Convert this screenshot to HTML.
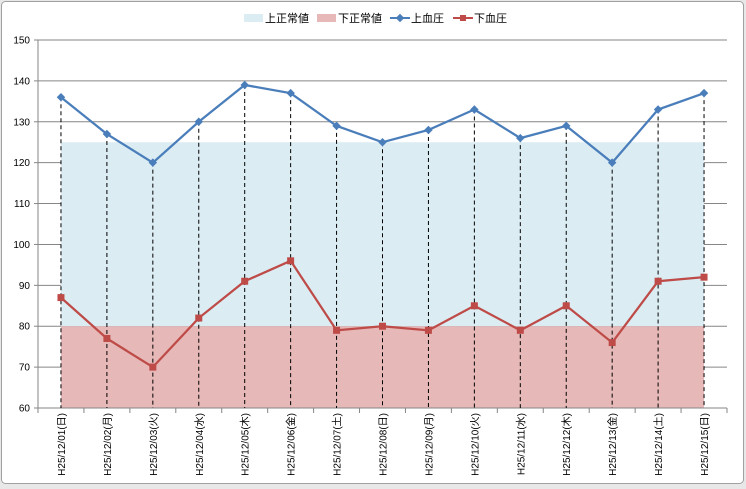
<!DOCTYPE html>
<html><head><meta charset="utf-8"><style>
html,body{margin:0;padding:0;background:#e8e8e8;}
svg{display:block;font-family:"Liberation Sans","Noto Sans CJK JP",sans-serif;}
</style></head><body>
<svg id="chart" width="746" height="489" xmlns="http://www.w3.org/2000/svg">
<rect x="1.5" y="1.5" width="742" height="482" rx="4" fill="#fff" stroke="#a0a0a0"/>
<g id="legend">
 <g><rect x="244" y="14" width="19" height="8" fill="#dbedf3"/><text x="265" y="22" font-size="11">上正常値</text></g>
 <g><rect x="317" y="14" width="19" height="8" fill="#e6b8b7"/><text x="338" y="22" font-size="11">下正常値</text></g>
 <g><line x1="390" y1="18" x2="410" y2="18" stroke="#4a7ebb" stroke-width="2"/><rect x="397" y="15" width="6" height="6" fill="#4a7ebb" transform="rotate(45 400 18)"/><text x="411" y="22" font-size="11">上血圧</text></g>
 <g><line x1="453" y1="18" x2="473" y2="18" stroke="#be4b48" stroke-width="2"/><rect x="460" y="15" width="6" height="6" fill="#be4b48"/><text x="474" y="22" font-size="11">下血圧</text></g>
</g>
<g id="plot"></g>
</svg>
<script>
const categories=["H25/12/01(日)","H25/12/02(月)","H25/12/03(火)","H25/12/04(水)","H25/12/05(木)","H25/12/06(金)","H25/12/07(土)","H25/12/08(日)","H25/12/09(月)","H25/12/10(火)","H25/12/11(水)","H25/12/12(木)","H25/12/13(金)","H25/12/14(土)","H25/12/15(日)"];
const upperBP=[136,127,120,130,139,137,129,125,128,133,126,129,120,133,137];
const lowerBP=[87,77,70,82,91,96,79,80,79,85,79,85,76,91,92];
const upperNormal=[80,125];
const lowerNormal=[60,80];
const yTicks=[60,70,80,90,100,110,120,130,140,150];

const NS="http://www.w3.org/2000/svg";
const L=38,R=727,T=40,B=408,yMin=60,yMax=150;
const band=(R-L)/categories.length;
const xs=i=>L+band*(i+0.5);
const ys=v=>B-(v-yMin)/(yMax-yMin)*(B-T);
const g=document.getElementById('plot');
function mk(tag,attrs,parent){const e=document.createElementNS(NS,tag);for(const k in attrs)e.setAttribute(k,attrs[k]);(parent||g).appendChild(e);return e;}

// gridlines
yTicks.forEach(v=>{
 const ln=mk('line',{x1:L,x2:R,y1:ys(v),y2:ys(v),stroke:'#868686','stroke-width':1});
 
 
});
// bands
const x0=xs(0),x1=xs(categories.length-1);
const ub=mk('rect',{x:x0,y:ys(upperNormal[1]),width:x1-x0,height:ys(upperNormal[0])-ys(upperNormal[1]),fill:'#dbedf3'});


const lb=mk('rect',{x:x0,y:ys(lowerNormal[1]),width:x1-x0,height:ys(lowerNormal[0])-ys(lowerNormal[1]),fill:'#e6b8b7'});


// axes
const ya=mk('line',{x1:L,x2:L,y1:T,y2:B,stroke:'#868686'});


const xa=mk('line',{x1:L-4,x2:R,y1:B,y2:B,stroke:'#868686'});


yTicks.forEach(v=>{
 mk('line',{x1:L-4,x2:L,y1:ys(v),y2:ys(v),stroke:'#868686'});
 const t=mk('text',{x:L-8,y:ys(v)+3.5,'font-size':10,'text-anchor':'end',fill:'#000'});
 t.textContent=v;
 
 
});
for(let i=0;i<=categories.length;i++){mk('line',{x1:L+band*i,x2:L+band*i,y1:B,y2:B+5,stroke:'#868686'});}
categories.forEach((c,i)=>{
 const t=mk('text',{x:0,y:0,'font-size':10,'text-anchor':'end',transform:`translate(${xs(i)+4},${B+5}) rotate(-90)`});
 t.textContent=c;
 
 
});
// drop lines
categories.forEach((c,i)=>{
 const d=mk('line',{x1:xs(i),x2:xs(i),y1:ys(upperBP[i]),y2:B,stroke:'#000','stroke-dasharray':'4,3','stroke-width':1});
 
 
});
// series
const up=mk('polyline',{points:upperBP.map((v,i)=>xs(i)+','+ys(v)).join(' '),fill:'none',stroke:'#4a7ebb','stroke-width':2.25});


const lo=mk('polyline',{points:lowerBP.map((v,i)=>xs(i)+','+ys(v)).join(' '),fill:'none',stroke:'#be4b48','stroke-width':2.25});


upperBP.forEach((v,i)=>{
 const m=mk('rect',{x:xs(i)-3,y:ys(v)-3,width:6,height:6,fill:'#4a7ebb',transform:`rotate(45 ${xs(i)} ${ys(v)})`});
 
 
});
lowerBP.forEach((v,i)=>{
 const m=mk('rect',{x:xs(i)-3.5,y:ys(v)-3.5,width:7,height:7,fill:'#be4b48'});
 
 
});
</script>
</body></html>
